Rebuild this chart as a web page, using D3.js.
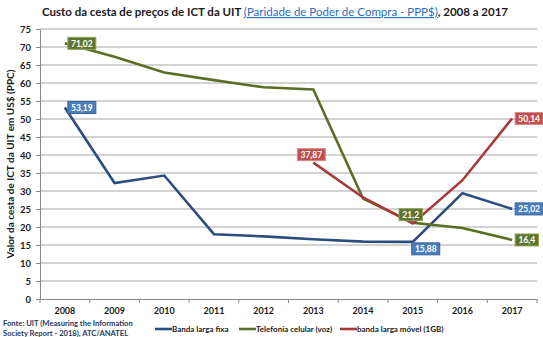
<!DOCTYPE html>
<html>
<head>
<meta charset="utf-8">
<script src="https://cdn.jsdelivr.net/npm/d3@7"></script>
<style>
  body { margin: 0; background: #fff; }
  text { font-family: Lato, "Open Sans", sans-serif; }
</style>
</head>
<body>
<svg id="chart" width="543" height="337"></svg>
<script>
// years and series values (US$ PPC)
var years = ["2008","2009","2010","2011","2012","2013","2014","2015","2016","2017"];
var fixa = [53.19, 32.2, 34.3, 18.0, 17.4, 16.6, 15.95, 15.88, 29.4, 25.02];
var celular = [71.02, 67.3, 62.9, 60.8, 58.8, 58.2, 27.9, 21.2, 19.7, 16.4];
var movel = [null, null, null, null, null, 37.87, 28.2, 21.0, 33.0, 50.14];
var yTicks = [0,5,10,15,20,25,30,35,40,45,50,55,60,65,70,75];

var series = [
  { name: "Banda larga fixa", values: fixa, line: "#2C4D7F", box: "#4A7EBB", border: "#3A659A",
    labels: [{ i: 0, pos: "right" }, { i: 7, pos: "below" }, { i: 9, pos: "right" }] },
  { name: "Telefonia celular (voz)", values: celular, line: "#5B6E26", box: "#5E7530", border: "#8FA35A",
    labels: [{ i: 0, pos: "right" }, { i: 7, pos: "above" }, { i: 9, pos: "right" }] },
  { name: "banda larga móvel (1GB)", values: movel, line: "#A83A3B", box: "#C0504D", border: "#D98B89",
    labels: [{ i: 5, pos: "above" }, { i: 9, pos: "right" }] }
];

var svg = d3.select("#chart");
var plotL = 40, plotR = 537, plotT = 29, plotB = 299;

var x = d3.scaleBand().domain(years).range([plotL, plotR]).padding(0);
var y = d3.scaleLinear().domain([0, 75]).range([plotB, plotT]);
var cx = function(i) { return x(years[i]) + x.bandwidth() / 2; };

// title
var title = svg.append("text").attr("x", 275).attr("y", 16)
  .attr("text-anchor", "middle").style("font-size", "11.5px").style("font-weight", "bold").attr("fill", "#1a1a1a");
title.append("tspan").text("Custo da cesta de preços de ICT da UIT ");
title.append("tspan").text("(Paridade de Poder de Compra - PPP$)")
  .attr("fill", "#2F6EBA").style("font-weight", "normal").style("text-decoration", "underline");
title.append("tspan").text(", 2008 a 2017");

// gridlines
svg.append("g").selectAll("line").data(yTicks.filter(function(d) { return d > 0; })).enter().append("line")
  .attr("x1", plotL).attr("x2", plotR)
  .attr("y1", function(d) { return y(d); }).attr("y2", function(d) { return y(d); })
  .attr("stroke", "#a6a6a6").attr("stroke-width", 1);

// y axis
var yAxis = svg.append("g").attr("transform", "translate(" + plotL + ",0)")
  .call(d3.axisLeft(y).tickValues(yTicks).tickSize(4).tickSizeOuter(0));
yAxis.select(".domain").attr("stroke", "#888");
yAxis.selectAll(".tick line").attr("stroke", "#888");
yAxis.selectAll(".tick text").attr("x", -9).style("font-size", "9.5px").style("font-weight", "bold")
  .style("font-family", "Lato, sans-serif").attr("fill", "#1a1a1a");

// x axis
var xAxis = svg.append("g").attr("transform", "translate(0," + plotB + ")")
  .call(d3.axisBottom(x).tickSize(0).tickSizeOuter(0));
xAxis.select(".domain").attr("stroke", "#888");
xAxis.selectAll(".tick text").attr("y", 9).style("font-size", "9px").style("font-weight", "bold")
  .style("font-family", "Lato, sans-serif").attr("fill", "#1a1a1a");
xAxis.selectAll(".sep").data(years.concat(["end"])).enter().append("line")
  .attr("x1", function(d, i) { return plotL + i * x.step(); })
  .attr("x2", function(d, i) { return plotL + i * x.step(); })
  .attr("y1", 0).attr("y2", 4).attr("stroke", "#888");

// y axis title
svg.append("text").attr("transform", "translate(14," + ((plotT + plotB) / 2) + ") rotate(-90)")
  .attr("text-anchor", "middle").style("font-size", "10px").style("font-weight", "bold")
  .attr("fill", "#1a1a1a").text("Valor da cesta de ICT da UIT em US$ (PPC)");

// lines
var line = d3.line()
  .defined(function(d) { return d != null; })
  .x(function(d, i) { return cx(i); })
  .y(function(d) { return y(d); });

series.forEach(function(s) {
  svg.append("path").datum(s.values)
    .attr("d", line).attr("fill", "none")
    .attr("stroke", s.line).attr("stroke-width", 2.6).attr("stroke-linejoin", "miter");
});

// value labels
var fmt = function(v) { return String(v).replace(".", ","); };
series.forEach(function(s) {
  s.labels.forEach(function(l) {
    var v = s.values[l.i], px = cx(l.i), py = y(v);
    var txt = fmt(v), w = txt.length * 4.6 + 5, h = 12;
    var bx, by;
    if (l.pos === "right") { bx = px + 3; by = py - h / 2; }
    else if (l.pos === "above") { bx = px - w / 2 - 2; by = py - h - 2; }
    else { bx = px - 1; by = py + 1; }
    var g = svg.append("g");
    g.append("rect").attr("x", bx).attr("y", by).attr("width", w).attr("height", h)
      .attr("fill", s.box).attr("stroke", s.border).attr("stroke-width", 1);
    g.append("text").attr("x", bx + w / 2).attr("y", by + h / 2 + 3.2)
      .attr("text-anchor", "middle").style("font-size", "8.5px").style("font-weight", "bold")
      .attr("fill", "#fff").text(txt);
  });
});

// source note
var src = svg.append("text").attr("x", 3).attr("y", 326).style("font-size", "7.6px")
  .style("font-weight", "bold").attr("fill", "#1F3864");
src.append("tspan").attr("x", 3).text("Fonte: UIT (Measuring the Information");
src.append("tspan").attr("x", 3).attr("dy", 10).text("Society Report - 2018), ATC/ANATEL");

// legend
var legendX = [155, 239, 340];
series.forEach(function(s, i) {
  var g = svg.append("g").attr("transform", "translate(" + legendX[i] + ",329)");
  g.append("line").attr("x1", 0).attr("x2", 17).attr("y1", 0).attr("y2", 0)
    .attr("stroke", s.line).attr("stroke-width", 2.6);
  g.append("text").attr("x", 17).attr("y", 3).style("font-size", "8px").style("font-weight", "bold")
    .attr("fill", "#1a1a1a").text(s.name);
});
</script>
</body>
</html>
